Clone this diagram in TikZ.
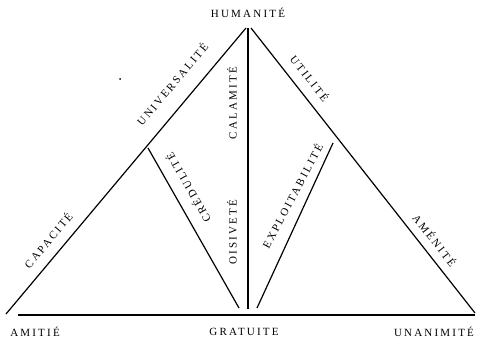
\documentclass[tikz,border=0pt]{standalone}
\usepackage{fontspec}
\newfontfamily\spaced[LetterSpace=20]{Liberation Serif}
\begin{document}
\begin{tikzpicture}[x=1pt,y=-1pt,
  edge/.style={line width=1.2pt,black},
  lab/.style={font=\spaced\fontsize{11}{13}\selectfont,inner sep=0pt,anchor=center}]
\useasboundingbox (0,0) rectangle (478,340);
% end points
\coordinate (apexL) at (246,28);
\coordinate (apexR) at (251,28);
\coordinate (apexM) at (248,28);
\coordinate (baseL) at (6,314);
\coordinate (baseR) at (475,313);
\coordinate (midB) at (248,309);
\coordinate (lineL) at (18,315);
\coordinate (lineR) at (475,315);
\coordinate (credT) at (148,148);
\coordinate (credB) at (239,308);
\coordinate (explT) at (333,143);
\coordinate (explB) at (257,308);
% lines
\draw[edge] (baseL) -- (apexL);
\draw[edge] (apexR) -- (baseR);
\draw[edge] (apexM) -- (midB);
\draw[edge] (lineL) -- (lineR);
\draw[edge] (credT) -- (credB);
\draw[edge] (explT) -- (explB);
% speck
\fill (120,79) circle (1pt);
% labels
\node[lab] (hum) at (248,13) {HUMANITÉ};
\node[lab,rotate=50] (univ) at (172,84) {UNIVERSALITÉ};
\node[lab,rotate=50] (capa) at (48,240) {CAPACITÉ};
\node[lab,rotate=90] (cala) at (232,103) {CALAMITÉ};
\node[lab,rotate=90] (oisi) at (232,232) {OISIVETÉ};
\node[lab,rotate=119.6] (cred) at (188,188) {CRÉDULITÉ};
\node[lab,rotate=62] (expl) at (292,196) {EXPLOITABILITÉ};
\node[lab,rotate=-52] (util) at (310,78) {UTILITÉ};
\node[lab,rotate=-52] (amen) at (435,240) {AMÉNITÉ};
\node[lab] (amit) at (35,332) {AMITIÉ};
\node[lab] (grat) at (244,332) {GRATUITE};
\node[lab] (unan) at (434,332) {UNANIMITÉ};
\end{tikzpicture}
\end{document}
